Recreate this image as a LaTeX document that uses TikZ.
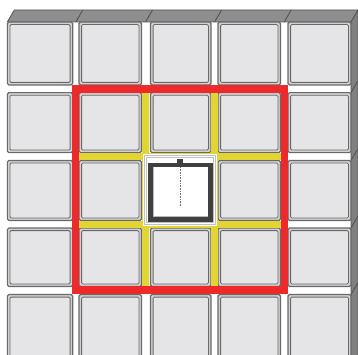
\documentclass[tikz,border=0pt]{standalone}
\definecolor{redline}{RGB}{236,42,44}
\definecolor{yelline}{RGB}{226,212,50}
\definecolor{cellfill}{RGB}{229,229,231}
\definecolor{cellring}{RGB}{208,208,210}
\definecolor{celledge}{RGB}{105,105,105}
\definecolor{faceg}{RGB}{142,142,142}
\definecolor{sideg}{RGB}{128,128,128}
\definecolor{edgeg}{RGB}{85,85,85}
\definecolor{darkg}{RGB}{64,64,64}
\begin{document}
\begin{tikzpicture}[x=1pt,y=-1pt,
  cellouter/.style={draw=celledge,line width=1.1pt,fill=cellring,rounded corners=1.5pt},
  cellinner/.style={draw=celledge,line width=0.8pt,fill=cellfill,rounded corners=1.2pt},
  facestyle/.style={fill=faceg,draw=edgeg,line width=0.8pt,line join=round},
  sidestyle/.style={fill=sideg,draw=edgeg,line width=0.8pt,line join=round},
  divider/.style={draw=edgeg,line width=0.9pt},
  yelstyle/.style={draw=yelline,line width=7pt},
  redstyle/.style={draw=redline,line width=7.2pt,line join=miter},
  thinring/.style={draw=gray!50,line width=0.5pt},
  darkframe/.style={draw=darkg,line width=4.6pt},
  dotline/.style={draw=darkg!75,line width=0.7pt,dash pattern=on 0.8pt off 0.8pt}]
\clip (0,0) rectangle (358,355);
\fill[white] (0,0) rectangle (358,355);
% top face of the block row
\path[facestyle] (7.3,22) -- (351,22) -- (358,10) -- (14.3,10) -- cycle;
\foreach \x in {75.8,145.5,214.6,284.2}{
  \draw[divider] (\x,22) -- (\x+7,10);
}
% right side face
\path[sidestyle] (351,22) -- (358,10) -- (358,362) -- (351,362) -- cycle;
\foreach \y in {92.7,160.5,228,294.5}{
  \draw[divider] (351,\y) -- (358,\y-12);
}
% cells
\foreach \l/\r in {7.3/72.7,79/141.5,150.5/211,218/280.5,288/351}{
  \foreach \t/\b in {22/85,92.7/152.7,160.5/220.5,228/286.5,294.5/362}{
    \draw[cellouter] (\l,\t) rectangle (\r,\b);
    \draw[cellinner] (\l+2.6,\t+2.6) rectangle (\r-2.6,\b-2.6);
  }
}
% yellow inner lines
\draw[yelstyle] (145.5,89) -- (145.5,290);
\draw[yelstyle] (214.6,89) -- (214.6,290);
\draw[yelstyle] (75.8,156.3) -- (284.2,156.3);
\draw[yelstyle] (75.8,224) -- (284.2,224);
% red square
\draw[redstyle] (75.8,89) rectangle (284.2,290);
% centre cell
\fill[white] (142.8,154) rectangle (216.5,225.5);
\draw[thinring] (144.3,155.5) rectangle (215,224);
\draw[thinring] (146.3,157.5) rectangle (213,222);
\draw[darkframe] (150.6,165) rectangle (210.5,219.3);
\draw[draw=gray!55,line width=1pt] (153.6,167.5) -- (153.6,216.3) -- (208,216.3);
\fill[darkg] (177.4,159.3) rectangle (182.8,167);
\draw[dotline] (180.1,167) -- (180.1,207);
\end{tikzpicture}
\end{document}
